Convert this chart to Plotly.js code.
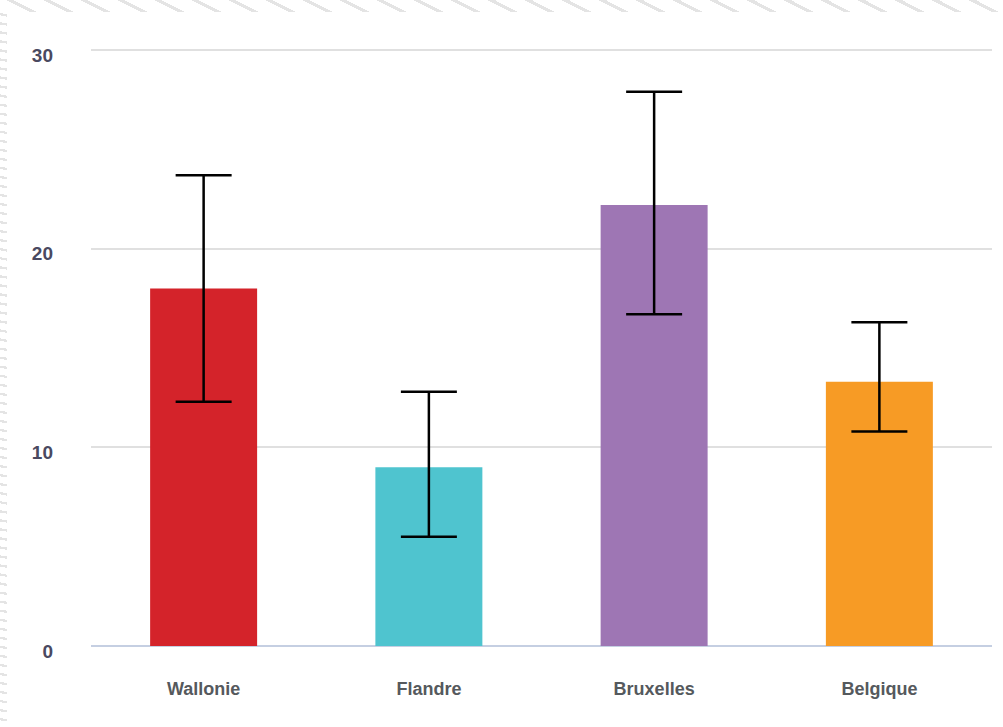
<!DOCTYPE html>
<html><head><meta charset="utf-8">
<script src="https://cdn.plot.ly/plotly-3.0.1.min.js"></script>
<style>
html,body{margin:0;padding:0;}
body{width:1003px;height:727px;position:relative;overflow:hidden;background:#fff;}
#topband{position:absolute;left:0;top:0;width:1003px;height:12px;
background:repeating-linear-gradient(27deg,#ffffff 0px,#ffffff 13.5px,#e4e4e4 13.5px,#e4e4e4 16.8px);}
#leftband{position:absolute;left:0;top:12px;width:7px;height:715px;
background:repeating-linear-gradient(10deg,#ffffff 0px,#ffffff 6.6px,#e4e4e4 6.6px,#e4e4e4 8.9px);}
#plot{position:absolute;left:7px;top:12px;width:996px;height:715px;background:#fff;}
</style></head><body>
<div id="topband"></div>
<div id="leftband"></div>
<div id="plot"></div>
<script>
const categories = ["Wallonie","Flandre","Bruxelles","Belgique"];
const values = [18.0, 9.0, 22.2, 13.3];
const upper = [23.7, 12.8, 27.9, 16.3];
const lower = [12.3, 5.5, 16.7, 10.8];
const colors = ["#d4232a","#4fc4cf","#9e76b4","#f79b25"];
const yTicks = [0,10,20,30];

const errPlus = values.map((v,i)=>upper[i]-v);
const errMinus = values.map((v,i)=>v-lower[i]);

const trace = {
  type:"bar", x:categories, y:values,
  marker:{color:colors},
  error_y:{type:"data", symmetric:false, array:errPlus, arrayminus:errMinus,
    color:"#000", thickness:2.5, width:28},
  hoverinfo:"none"
};
const layout = {
  width:996, height:715,
  margin:{l:84,r:11,t:35,b:81},
  paper_bgcolor:"#fff", plot_bgcolor:"#fff",
  showlegend:false, bargap:0.525,
  font:{family:"Liberation Sans Narrow, Arial Narrow, sans-serif"},
  xaxis:{tickfont:{size:18,color:"#55595d",weight:"bold"}, showgrid:false, ticks:"",
    ticklabelstandoff:30, showline:false, zeroline:false},
  yaxis:{range:[0,30.15], tickvals:yTicks, ticktext:yTicks.map(String),
    tickfont:{size:19,color:"#4a4960",weight:"bold"},
    gridcolor:"#e0e0e0", gridwidth:2, zeroline:true, zerolinecolor:"#c5cfe2", zerolinewidth:2.5,
    ticks:"", ticklabelstandoff:37, ticklabelshift:5, showline:false}
};
Plotly.newPlot("plot",[trace],layout,{displayModeBar:false,staticPlot:true});
</script>
</body></html>
